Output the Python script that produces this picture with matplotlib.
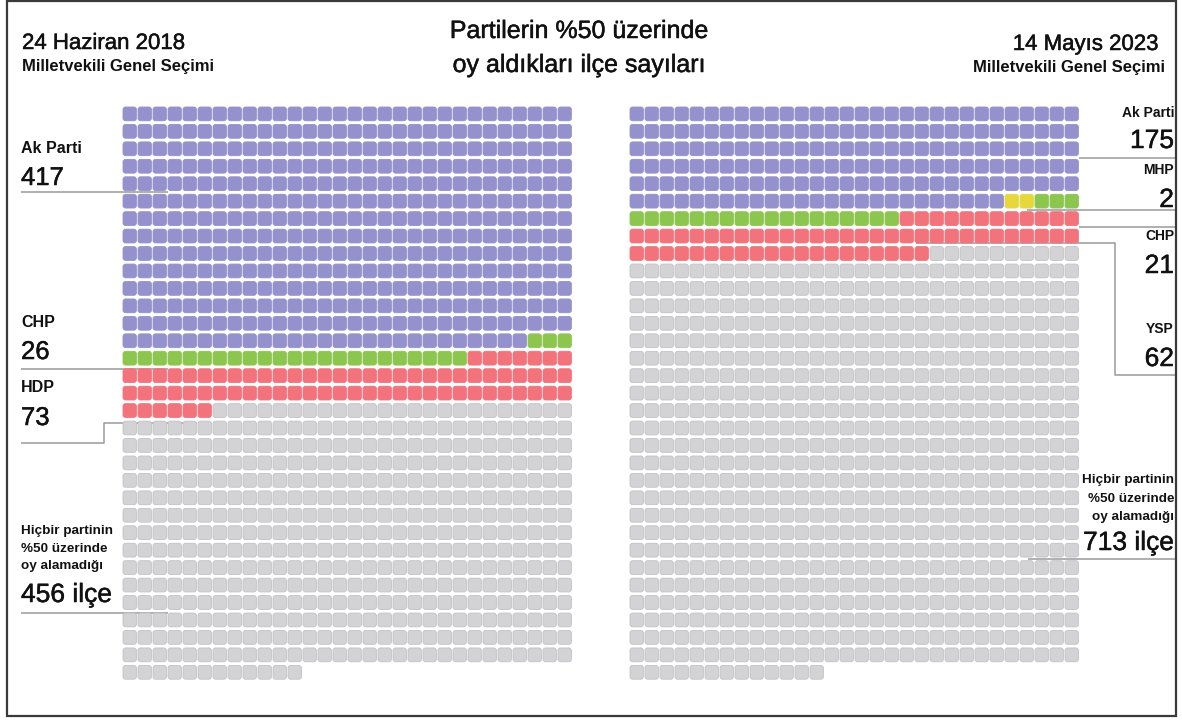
import matplotlib.pyplot as plt
import matplotlib.patheffects as pe
from matplotlib.patches import FancyBboxPatch, Rectangle

# --- data -------------------------------------------------------------
parties_2018 = ["Ak Parti", "CHP", "HDP", "Hiçbir"]
counts_2018 = [417, 26, 73, 456]
colors_2018 = ["#9491cc", "#8dc64f", "#f2737b", "#d3d3d5"]

parties_2023 = ["Ak Parti", "MHP", "CHP", "YSP", "Hiçbir"]
counts_2023 = [175, 2, 21, 62, 713]
colors_2023 = ["#9491cc", "#e6d83c", "#8dc64f", "#f2737b", "#d3d3d5"]

n_cols = 30

FONT = "Liberation Sans"
LINE_C = "#9a9a9a"
INK = "#111111"

# --- figure in pixel coordinates ----------------------------------------
fig = plt.figure(figsize=(11.82, 7.2), dpi=100)
ax = fig.add_axes([0, 0, 1, 1])
ax.set_xlim(0, 1182)
ax.set_ylim(720, 0)
ax.axis("off")

ax.add_patch(Rectangle((7, 1), 1169, 715, fill=False, edgecolor="#3a3a3a",
                       linewidth=1.6, zorder=5))


def waffle(ax, counts, colors, x0, y0, dx=15.0, dy=17.45, w=13.4, h=13.8):
    i = 0
    for n, c in zip(counts, colors):
        for _ in range(n):
            col, row = i % n_cols, i // n_cols
            edge = "#c2c2c4" if c == "#d3d3d5" else c
            ax.add_patch(FancyBboxPatch(
                (x0 + col * dx, y0 + row * dy), w, h,
                boxstyle="round,pad=0,rounding_size=2.6",
                facecolor=c, edgecolor=edge, linewidth=0.6, zorder=2))
            i += 1


waffle(ax, counts_2018, colors_2018, 123, 107)
waffle(ax, counts_2023, colors_2023, 630, 107)


def line(xs, ys):
    ax.plot(xs, ys, color=LINE_C, linewidth=1.1, zorder=1,
            solid_capstyle="butt")


def txt(x, y, s, size, weight="normal", ha="left", heavy=False):
    t = ax.text(x, y, s, fontsize=size, fontweight=weight, ha=ha,
                va="baseline", family=FONT, color=INK, zorder=4)
    if heavy:
        # medium weight look
        t.set_path_effects([pe.withStroke(linewidth=0.35, foreground=INK)])


# headers
txt(22, 49, "24 Haziran 2018", 16, heavy=True)
txt(22, 71, "Milletvekili Genel Seçimi", 12, "bold")
txt(1159, 50, "14 Mayıs 2023", 16, ha="right", heavy=True)
txt(1165, 72, "Milletvekili Genel Seçimi", 12, "bold", ha="right")
txt(579, 38, "Partilerin %50 üzerinde", 18, ha="center", heavy=True)
txt(579, 72, "oy aldıkları ilçe sayıları", 18, ha="center", heavy=True)

# left labels (2018)
txt(21, 153, parties_2018[0], 11.5, "bold")
txt(21, 185, str(counts_2018[0]), 18.5, heavy=True)
line([21, 168], [192, 192])

txt(21, 327, parties_2018[1], 11.5, "bold")
txt(21, 359, str(counts_2018[1]), 18.5, heavy=True)
line([21, 168], [369, 369])

txt(21, 392, parties_2018[2], 11.5, "bold")
txt(21, 425, str(counts_2018[2]), 18.5, heavy=True)
line([21, 104, 104, 197], [443, 443, 423, 423])

txt(21, 534, "Hiçbir partinin", 9.7, "bold")
txt(21, 552, "%50 üzerinde", 9.7, "bold")
txt(21, 569, "oy alamadığı", 9.7, "bold")
txt(21, 602, f"{counts_2018[3]} ilçe", 19, heavy=True)
line([21, 168], [613, 613])

# right labels (2023)
RX = 1174
txt(RX, 117, parties_2023[0], 10, "bold", ha="right")
txt(RX, 148, str(counts_2023[0]), 19, ha="right", heavy=True)
line([1079, 1175], [158, 158])

txt(RX, 174, parties_2023[1], 10, "bold", ha="right")
txt(RX, 207, str(counts_2023[1]), 19, ha="right", heavy=True)
line([1027, 1175], [210, 210])

txt(RX, 240, parties_2023[2], 10, "bold", ha="right")
txt(RX, 273, str(counts_2023[2]), 19, ha="right", heavy=True)
line([1079, 1175], [227, 227])

txt(RX, 333, parties_2023[3], 10, "bold", ha="right")
txt(RX, 366, str(counts_2023[3]), 19, ha="right", heavy=True)
line([916, 1115, 1115, 1175], [243, 243, 375, 375])

txt(RX, 483, "Hiçbir partinin", 9.7, "bold", ha="right")
txt(RX, 502, "%50 üzerinde", 9.7, "bold", ha="right")
txt(RX, 520, "oy alamadığı", 9.7, "bold", ha="right")
txt(RX, 550, f"{counts_2023[4]} ilçe", 19, ha="right", heavy=True)
line([1028, 1175], [559, 559])

fig.savefig("out.png", dpi=100, facecolor="white")
